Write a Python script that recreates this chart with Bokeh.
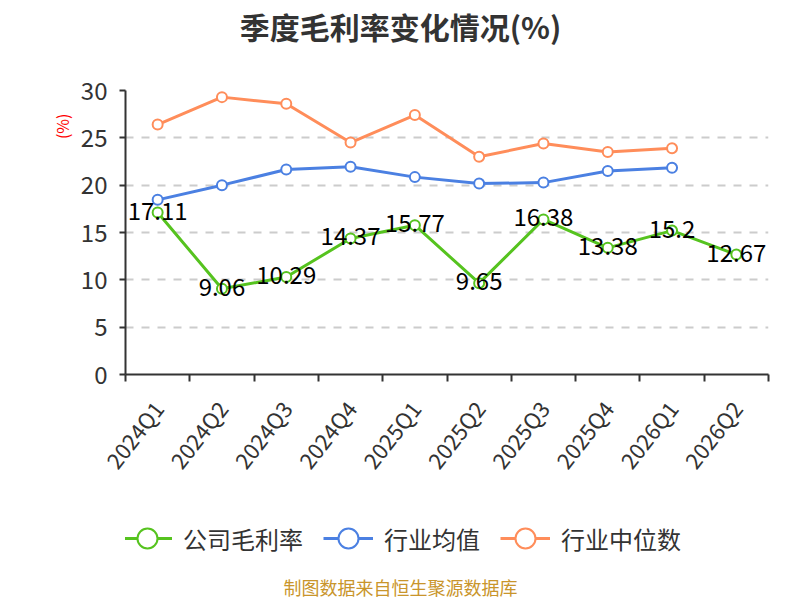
import math
from bokeh.plotting import figure
from bokeh.layouts import column
from bokeh.models import (Range1d, FixedTicker, Title, Legend, LegendItem,
                          ColumnDataSource, LabelSet, Label)
from bokeh.embed import file_html
from bokeh.resources import INLINE
from bokeh.core.properties import value

categories = ["2024Q1", "2024Q2", "2024Q3", "2024Q4", "2025Q1",
              "2025Q2", "2025Q3", "2025Q4", "2026Q1", "2026Q2"]
company = [17.11, 9.06, 10.29, 14.37, 15.77, 9.65, 16.38, 13.38, 15.2, 12.67]
industry_avg = [18.45, 20.0, 21.65, 21.95, 20.85, 20.17, 20.27, 21.5, 21.83]
industry_median = [26.4, 29.3, 28.6, 24.5, 27.4, 23.0, 24.4, 23.5, 23.9]
y_ticks = [0, 5, 10, 15, 20, 25, 30]
series_names = ["公司毛利率", "行业均值", "行业中位数"]

FONT = "Noto Sans CJK SC"
GREEN = "#56C31F"
BLUE = "#4B80E2"
ORANGE = "#FF8D5A"
FRAME_LEFT = 125   # plot frames in the column are aligned to this


def blank(h):
    f = figure(width=800, height=h, x_range=Range1d(0, 1), y_range=Range1d(0, 1),
               output_backend="svg", toolbar_location=None,
               x_axis_location=None, y_axis_location=None, min_border=0)
    f.outline_line_color = None
    f.xgrid.grid_line_color = None
    f.ygrid.grid_line_color = None
    return f


# ---- top strip: title ----
top = blank(50)
top.add_layout(Label(x=400 - FRAME_LEFT, y=25, x_units="screen", y_units="screen",
                     text="季度毛利率变化情况(%)", text_align="center",
                     text_baseline="middle", text_font=FONT,
                     text_font_size="30px", text_font_style="bold",
                     text_color="#333333"))

# ---- main chart ----
xs = [i + 0.5 for i in range(len(categories))]
bounds = list(range(len(categories) + 1))

p = figure(width=800, height=460, x_range=Range1d(0, len(categories)),
           y_range=Range1d(y_ticks[0], y_ticks[-1]),
           output_backend="svg", toolbar_location=None,
           min_border_left=FRAME_LEFT, min_border_right=32,
           min_border_top=40, min_border_bottom=136)
p.outline_line_color = None

xa = p.xaxis[0]
xa.ticker = FixedTicker(ticks=xs, minor_ticks=bounds)
xa.major_label_overrides = {x: c for x, c in zip(xs, categories)}
xa.major_tick_in = 0
xa.major_tick_out = 0
xa.minor_tick_in = 0
xa.minor_tick_out = 7
xa.minor_tick_line_color = "#333333"
xa.minor_tick_line_width = 2
xa.axis_line_color = "#333333"
xa.axis_line_width = 2
xa.major_label_orientation = math.radians(52)
xa.major_label_standoff = 22
xa.major_label_text_font = FONT
xa.major_label_text_font_size = "22px"
xa.major_label_text_color = "#333333"

ya = p.yaxis[0]
ya.ticker = FixedTicker(ticks=y_ticks)
ya.major_tick_in = 0
ya.major_tick_out = 6
ya.major_tick_line_color = "#333333"
ya.major_tick_line_width = 2
ya.minor_tick_line_color = None
ya.axis_line_color = "#333333"
ya.axis_line_width = 2
ya.major_label_standoff = 12
ya.major_label_text_font = FONT
ya.major_label_text_font_size = "24px"
ya.major_label_text_color = "#333333"

p.xgrid.grid_line_color = None
p.ygrid.ticker = FixedTicker(ticks=y_ticks)
p.ygrid.grid_line_color = "#cccccc"
p.ygrid.grid_line_dash = "8 8"
p.ygrid.grid_line_width = 2

p.add_layout(Title(text="(%)", align="right", offset=23, standoff=8,
                   text_font=FONT, text_font_size="16px",
                   text_font_style="normal", text_color="red"), "left")

n_avg = len(industry_avg)
n_med = len(industry_median)

p.line(xs[:n_med], industry_median, line_color=ORANGE, line_width=3)
p.scatter(xs[:n_med], industry_median, size=10, fill_color="white",
          line_color=ORANGE, line_width=2)
p.line(xs[:n_avg], industry_avg, line_color=BLUE, line_width=3)
p.scatter(xs[:n_avg], industry_avg, size=10, fill_color="white",
          line_color=BLUE, line_width=2)
p.line(xs, company, line_color=GREEN, line_width=3)
p.scatter(xs, company, size=10, fill_color="white",
          line_color=GREEN, line_width=2)

src = ColumnDataSource(dict(x=xs, y=company, t=[str(v) for v in company]))
p.add_layout(LabelSet(x="x", y="y", text="t", source=src, y_offset=2,
                      text_align="center", text_baseline="middle",
                      text_font=value(FONT), text_font_size="24px",
                      text_color="black"))

# ---- bottom strip: legend + source note ----
bot = blank(90)
items = []
nan = float("nan")
for name, col in zip(series_names, [GREEN, BLUE, ORANGE]):
    r1 = bot.line([nan], [nan], line_color=col, line_width=3)
    r2 = bot.scatter([nan], [nan], size=10, fill_color="white",
                     line_color=col, line_width=2)
    items.append(LegendItem(label=name, renderers=[r1, r2]))
bot.add_layout(Legend(items=items, orientation="horizontal",
                      location=(122 - FRAME_LEFT, 37), glyph_width=50,
                      glyph_height=50, label_text_font=FONT,
                      label_text_font_size="24px",
                      label_text_color="#333333", label_standoff=11,
                      spacing=20, padding=0, margin=0,
                      border_line_color=None, background_fill_alpha=0))
bot.add_layout(Label(x=400 - FRAME_LEFT, y=14, x_units="screen", y_units="screen",
                     text="制图数据来自恒生聚源数据库", text_align="center",
                     text_baseline="middle", text_font=FONT,
                     text_font_size="18px", text_color="#C9952B"))

layout = column(top, p, bot, spacing=0)
open("out.html", "w").write(file_html(layout, INLINE))
